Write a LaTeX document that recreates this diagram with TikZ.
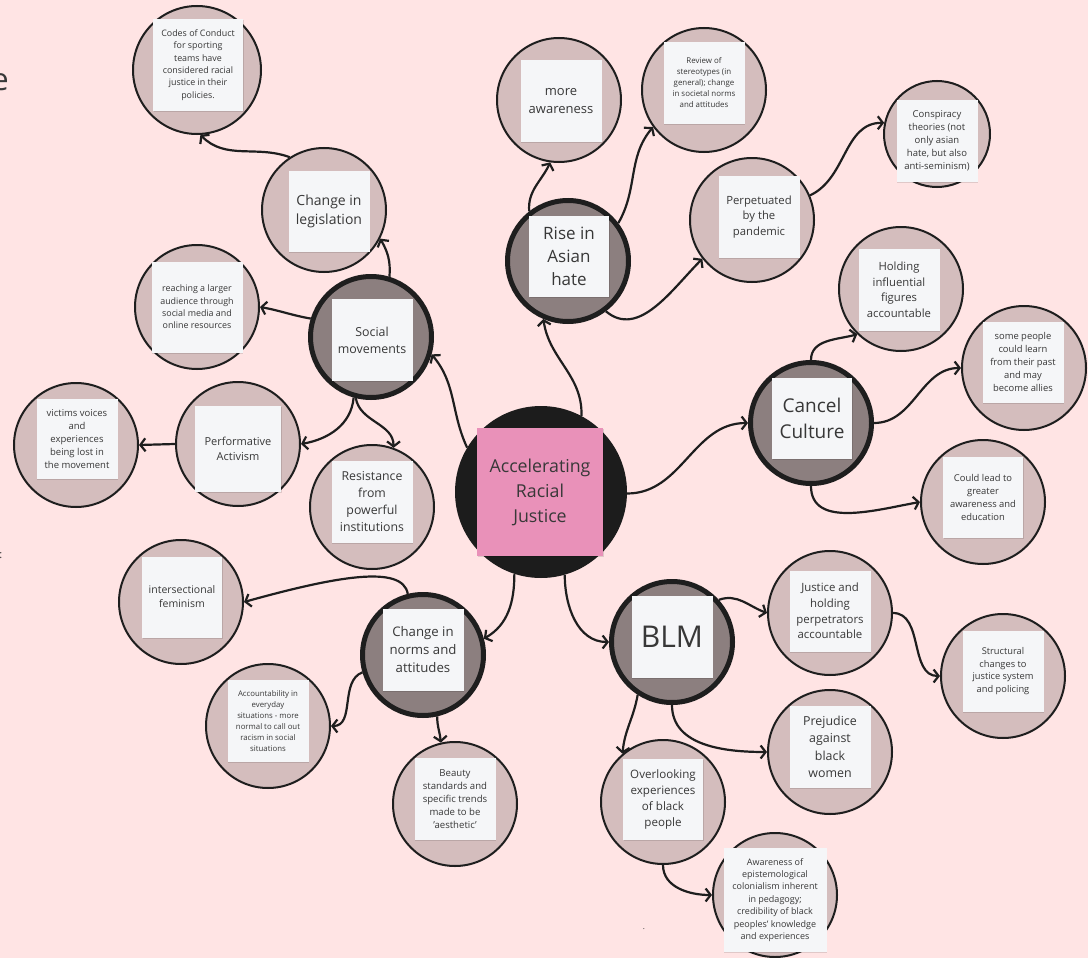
\documentclass[tikz,border=0pt]{standalone}
\usepackage{fontspec}
\setmainfont{Open Sans}
\usetikzlibrary{arrows.meta,shadows}
\definecolor{bgc}{HTML}{FFE4E4}
\definecolor{lightc}{HTML}{D4BDBD}
\definecolor{darkc}{HTML}{8C7F7F}
\definecolor{notec}{HTML}{F5F6F8}
\definecolor{pinkc}{HTML}{E991B9}
\definecolor{cenfill}{HTML}{1C1C1C}
\definecolor{txt}{HTML}{383838}
\definecolor{edge}{HTML}{1E1E1E}
\newcommand\F[2]{\fontsize{#1}{#2}\selectfont}
\begin{document}
\begin{tikzpicture}[x=1pt,y=1pt,
  mainc/.style={circle, draw=edge, line width=5pt, fill=darkc, inner sep=0pt, minimum size=121pt},
  subc/.style={circle, draw=edge, line width=2pt, fill=lightc, inner sep=0pt, minimum size=124pt},
  cenc/.style={circle, fill=cenfill, inner sep=0pt, minimum size=172pt},
  note/.style={rectangle, fill=notec, inner sep=0pt, text=txt, align=center,
    minimum width=81pt, minimum height=82pt,
    drop shadow={shadow xshift=0.8pt, shadow yshift=-1pt, fill=black, opacity=0.12}},
  conn/.style={draw=edge, line width=2.2pt, -{Straight Barb[length=5pt,width=13pt]}},
  frag/.style={inner sep=0pt, text=txt}
]
\useasboundingbox (0,0) rectangle (1088,-958);
\fill[bgc] (0,0) rectangle (1088,-958);

% fragments at the left edge
\node[frag, font=\F{31}{31}, anchor=base east] (fraga) at (9,-91) {e};
\node[frag, font=\F{11}{11}, anchor=east] (fragb) at (2.5,-556) {:};
\node[frag, font=\F{8}{8}] (fragc) at (644,-929) {.};

% centre
\node[cenc] (cen) at (541,-492) {};
\node[note, fill=pinkc, minimum width=126pt, minimum height=128pt, font=\F{17.8}{25}] (cenb) at (540,-492) {Accelerating\\Racial\\Justice};

% main topics
\node[mainc] (sm) at (371,-337) {};
\node[note, font=\F{12.4}{17}] (smb) at (372,-340) {Social\\movements};
\node[mainc] (asian) at (568,-261) {};
\node[note, minimum width=80pt, minimum height=81pt, font=\F{17}{23}] (asianb) at (569,-256) {Rise in\\Asian\\hate};
\node[mainc] (cancel) at (811,-423) {};
\node[note, minimum width=80pt, minimum height=81pt, font=\F{19}{26}] (cancelb) at (812,-418) {Cancel\\Culture};
\node[mainc] (blm) at (672,-642) {};
\node[note, font=\F{30}{36}] (blmb) at (672,-637) {BLM};
\node[mainc] (norms) at (423,-655) {};
\node[note, font=\F{13.2}{18}] (normsb) at (423,-650) {Change in\\norms and\\attitudes};

% sub topics
\node[subc] (leg) at (324,-210) {};
\node[note, minimum height=81pt, font=\F{14}{19}] (legb) at (329,-211) {Change in\\legislation};
\node[subc, minimum size=128pt] (codes) at (197,-70) {};
\node[note, minimum width=90pt, minimum height=92pt, font=\F{8.9}{12.3}] (codesb) at (198,-65) {Codes of Conduct\\for sporting\\teams have\\considered racial\\justice in their\\policies.};
\node[subc] (reach) at (197,-307) {};
\node[note, minimum width=91pt, minimum height=91pt, font=\F{8.9}{12.3}] (reachb) at (197,-307) {reaching a larger\\audience through\\social media and\\online resources};
\node[subc] (victims) at (76,-445) {};
\node[note, minimum height=80pt, font=\F{9.5}{13}] (victimsb) at (77,-439) {victims voices\\and\\experiences\\being lost in\\the movement};
\node[subc] (perf) at (238,-444) {};
\node[note, minimum width=86pt, minimum height=86pt, font=\F{11}{15}] (perfb) at (238,-449) {Performative\\Activism};
\node[subc] (resist) at (372,-507) {};
\node[note, font=\F{12.3}{17}] (resistb) at (372,-502) {Resistance\\from\\powerful\\institutions};
\node[subc] (inter) at (181,-602) {};
\node[note, minimum width=80pt, minimum height=81pt, font=\F{10.5}{14}] (interb) at (182,-597) {intersectional\\feminism};
\node[subc] (acc) at (268,-726) {};
\node[note, font=\F{7.8}{11}] (accb) at (268,-721) {Accountability in\\everyday\\situations - more\\normal to call out\\racism in social\\situations};
\node[subc] (beauty) at (455,-804) {};
\node[note, font=\F{9.6}{13}] (beautyb) at (455,-799) {Beauty\\standards and\\specific trends\\made to be\\'aesthetic'};
\node[subc] (aware) at (559,-100) {};
\node[note, font=\F{13}{18}] (awareb) at (561,-101) {more\\awareness};
\node[subc] (review) at (704,-90) {};
\node[note, minimum height=81pt, font=\F{7.9}{11}] (reviewb) at (704,-83) {Review of\\stereotypes (in\\general); change\\in societal norms\\and attitudes};
\node[subc] (perp) at (752,-220) {};
\node[note, font=\F{11.3}{15.5}] (perpb) at (759,-217) {Perpetuated\\by the\\pandemic};
\node[subc, minimum size=106pt] (consp) at (937,-134) {};
\node[note, font=\F{9.5}{13}] (conspb) at (937,-141) {Conspiracy\\theories (not\\only asian\\hate, but also\\anti-seminism)};
\node[subc] (hold) at (901,-289) {};
\node[note, font=\F{11.3}{15.5}] (holdb) at (899,-290) {Holding\\influential\\figures\\accountable};
\node[subc] (some) at (1024,-368) {};
\node[note, minimum height=81pt, font=\F{9.4}{13}] (someb) at (1023,-362) {some people\\could learn\\from their past\\and may\\become allies};
\node[subc] (could) at (983,-502) {};
\node[note, minimum width=80pt, minimum height=81pt, font=\F{9.4}{13}] (couldb) at (983,-497) {Could lead to\\greater\\awareness and\\education};
\node[subc] (just) at (830,-613) {};
\node[note, minimum height=81pt, font=\F{11.4}{15.7}] (justb) at (830,-611) {Justice and\\holding\\perpetrators\\accountable};
\node[subc] (struct) at (1003,-676) {};
\node[note, minimum height=81pt, font=\F{9.3}{12.5}] (structb) at (1003,-671) {Structural\\changes to\\justice system\\and policing};
\node[subc] (prej) at (830,-752) {};
\node[note, font=\F{12.4}{17.5}] (prejb) at (830,-747) {Prejudice\\against\\black\\women};
\node[subc] (over) at (663,-802) {};
\node[note, minimum width=80pt, minimum height=81pt, font=\F{11.6}{16}] (overb) at (663,-799) {Overlooking\\experiences\\of black\\people};
\node[subc] (epist) at (775,-895) {};
\node[note, minimum width=103pt, minimum height=104pt, font=\F{9}{12.4}] (epistb) at (775,-900) {Awareness of\\epistemological\\colonialism inherent\\in pedagogy;\\credibility of black\\peoples' knowledge\\and experiences};

% connectors
\draw[conn] (cen.149) to[out=115,in=-50] (sm.-16);
\draw[conn] (cen.62) to[out=88,in=-82] (asian.-113);
\draw[conn] (cen.-1) to[out=0,in=180] (cancel.180);
\draw[conn] (cen.-74) to[out=-90,in=180] (blm.180);
\draw[conn] (cen.-108) to[out=-90,in=30] (norms.15);

\draw[conn] (sm.73) to[out=85,in=-60] (leg.-27);
\draw[conn] (leg.123) to[out=160,in=-45] (codes.-87);
\draw[conn] (sm.163) to[out=170,in=-10] (reach.0);
\draw[conn] (sm.-106) to[out=-95,in=10] (perf.0);
\draw[conn] (sm.-104) to[out=-80,in=90] (resist.70);
\draw[conn] (perf.180) -- (victims.0);

\draw[conn] (norms.104) .. controls +(-5,30) and +(90,25) .. (inter.0);
\draw[conn] (norms.196) to[out=-160,in=0] (acc.0);
\draw[conn] (norms.-77) to[out=-90,in=95] (beauty.103);

\draw[conn] (asian.128) to[out=95,in=-115] (aware.-98);
\draw[conn] (asian.37) to[out=60,in=-130] (review.-144);
\draw[conn] (asian.-53) to[out=-40,in=-135] (perp.-142);
\draw[conn] (perp.23) to[out=25,in=180] (consp.168);

\draw[conn] (cancel.90) to[out=90,in=-165] (hold.-134);
\draw[conn] (cancel.0) to[out=0,in=180] (some.180);
\draw[conn] (cancel.-90) to[out=-90,in=-170] (could.180);

\draw[conn] (blm.42) to[out=20,in=160] (just.180);
\draw[conn] (just.0) to[out=0,in=180] (struct.180);
\draw[conn] (blm.-90) to[out=-90,in=180] (prej.180);
\draw[conn] (blm.-123) to[out=-100,in=85] (over.130);
\draw[conn] (over.-90) to[out=-90,in=180] (epist.180);
\end{tikzpicture}
\end{document}
